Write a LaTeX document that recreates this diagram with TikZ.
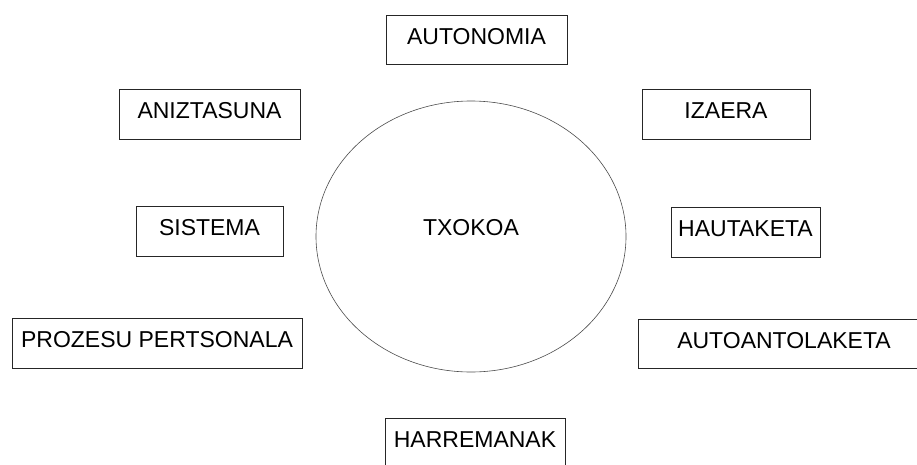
\documentclass[tikz,border=0pt]{standalone}
\usepackage{fontspec}
\setmainfont{Liberation Sans}
\usetikzlibrary{shapes.geometric}
\begin{document}
\begin{tikzpicture}[x=1pt,y=-1pt,
  lbl/.style={draw=black!85,line width=1pt,rectangle,inner sep=0pt,
    minimum height=50pt,text depth=7pt,font=\fontsize{23}{27}\selectfont},
  circ/.style={draw=black!70,line width=0.6pt,ellipse,inner sep=0pt,
    minimum width=310pt,minimum height=271pt,text depth=18pt,
    font=\fontsize{23}{27}\selectfont}]
\useasboundingbox (0,0) rectangle (917,464);
\clip (0,0) rectangle (917,464);
\node[circ] (txokoa) at (471,236.5) {TXOKOA};
\node[lbl,minimum width=181pt,minimum height=49pt] (autonomia) at (476.5,39.5) {AUTONOMIA};
\node[lbl,minimum width=181pt] (aniztasuna) at (209.5,114) {ANIZTASUNA};
\node[lbl,minimum width=168pt] (izaera) at (726,114) {IZAERA};
\node[lbl,minimum width=147pt] (sistema) at (209.5,231) {SISTEMA};
\node[lbl,minimum width=149pt] (hautaketa) at (745.5,232) {HAUTAKETA};
\node[lbl,minimum width=290pt] (prozesu) at (157,343) {PROZESU PERTSONALA};
\node[lbl,minimum width=292pt,minimum height=49pt] (autoantolaketa) at (784,343.5) {AUTOANTOLAKETA};
\node[lbl,minimum width=180pt] (harremanak) at (475,443) {HARREMANAK};
\end{tikzpicture}
\end{document}
